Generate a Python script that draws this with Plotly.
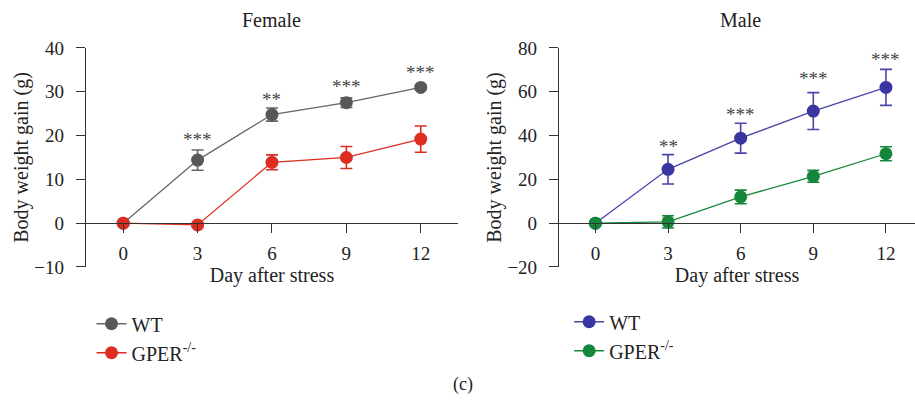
import plotly.graph_objects as go

days = [0, 3, 6, 9, 12]

# Female
f_wt = [0, 14.4, 24.8, 27.5, 31.0]
f_wt_err = [0, 2.3, 1.5, 1.1, 0.5]
f_ko = [0, -0.4, 13.9, 15.0, 19.2]
f_ko_err = [0, 0.5, 1.7, 2.5, 3.0]
f_stars = ["", "***", "**", "***", "***"]
f_star_y = [0, 19.2, 28.3, 31.1, 34.4]

# Male
m_wt = [0, 24.6, 38.8, 51.2, 62.0]
m_wt_err = [0, 6.7, 6.8, 8.4, 8.2]
m_ko = [0, 0.6, 12.0, 21.4, 31.7]
m_ko_err = [0, 2.8, 3.1, 2.7, 3.2]
m_stars = ["", "**", "***", "***", "***"]
m_star_y = [0, 35.0, 49.6, 66.0, 74.8]

FONT = "Liberation Serif"
GRAY = "#58585a"
RED = "#dc2d20"
BLUE = "#3a35a0"
GREEN = "#15873a"
TXT = "#222222"

fig = go.Figure()


def add(x, y, err, color, name, xa, ya, leg, lw_color=None):
    fig.add_trace(go.Scatter(
        x=x, y=y, mode="lines+markers", name=name,
        line=dict(color=lw_color or color, width=1.3),
        marker=dict(color=color, size=13),
        error_y=dict(type="data", array=err, visible=True, color=lw_color or color,
                     thickness=1.6, width=6),
        xaxis=xa, yaxis=ya, legend=leg, cliponaxis=False,
    ))


add(days, f_wt, f_wt_err, GRAY, "WT", "x", "y", "legend", "#666666")
add(days, f_ko, f_ko_err, RED, "GPER<sup>-/-</sup>", "x", "y", "legend")
add(days, m_wt, m_wt_err, BLUE, "WT", "x2", "y2", "legend2", "#4a46a8")
add(days, m_ko, m_ko_err, GREEN, "GPER<sup>-/-</sup>", "x2", "y2", "legend2")

ydom = [0.3375, 0.881]
xpos = ydom[0] + 0.2 * (ydom[1] - ydom[0])

axis_common = dict(
    showline=True, linecolor="#333333", linewidth=1.3, ticks="outside",
    ticklen=9, tickwidth=1.3, tickcolor="#333333", showgrid=False, zeroline=False,
    tickfont=dict(family=FONT, size=19, color=TXT), automargin=False,
)

xtitle = dict(text="Day after stress", standoff=0, font=dict(family=FONT, size=20, color=TXT))
ytitle = dict(text="Body weight gain (g)", standoff=0, font=dict(family=FONT, size=20, color=TXT))

fig.update_layout(
    width=915, height=403,
    margin=dict(l=0, r=0, t=0, b=0, autoexpand=False),
    paper_bgcolor="white", plot_bgcolor="white",
    font=dict(family=FONT, size=19, color=TXT),
    xaxis=dict(domain=[0.094, 0.5005], range=[-1.5, 13.5], anchor="free",
               position=xpos, tickvals=days, ticklabelstandoff=4,
               title=xtitle, **axis_common),
    yaxis=dict(domain=ydom, range=[-10, 40], tickvals=[-10, 0, 10, 20, 30, 40],
               ticktext=["\u221210", "0", "10", "20", "30", "40"], ticklabelstandoff=8,
               title=ytitle, anchor="x", **axis_common),
    xaxis2=dict(domain=[0.611, 1.0], range=[-1.5, 13.2], anchor="free",
                position=xpos, tickvals=days, ticklabelstandoff=4,
                title=xtitle, **axis_common),
    yaxis2=dict(domain=ydom, range=[-20, 80], tickvals=[-20, 0, 20, 40, 60, 80],
                ticktext=["\u221220", "0", "20", "40", "60", "80"], ticklabelstandoff=8,
                title=ytitle, anchor="x2", **axis_common),
    legend=dict(x=0.1, y=0.245, xanchor="left", yanchor="top",
                font=dict(family=FONT, size=20, color=TXT),
                tracegroupgap=0, itemwidth=30, bgcolor="rgba(0,0,0,0)"),
    legend2=dict(x=0.622, y=0.25, xanchor="left", yanchor="top",
                 font=dict(family=FONT, size=20, color=TXT),
                 tracegroupgap=0, itemwidth=30, bgcolor="rgba(0,0,0,0)"),
    showlegend=True,
)

for xr, yr, stars, sy in [("x", "y", f_stars, f_star_y), ("x2", "y2", m_stars, m_star_y)]:
    for d, s, yy in zip(days, stars, sy):
        if s:
            fig.add_annotation(x=d, y=yy, xref=xr, yref=yr, text=s, showarrow=False,
                               font=dict(family=FONT, size=19, color="#444444"))

fig.add_annotation(x=6, y=1.0, xref="x", yref="paper", yanchor="top", text="Female",
                   showarrow=False, yshift=-7, font=dict(family=FONT, size=20, color=TXT))
fig.add_annotation(x=6, y=1.0, xref="x2", yref="paper", yanchor="top", text="Male",
                   showarrow=False, yshift=-7, font=dict(family=FONT, size=20, color=TXT))
fig.add_annotation(x=0.506, y=0.045, xref="paper", yref="paper", text="(c)",
                   xanchor="center", yanchor="middle",
                   showarrow=False, font=dict(family=FONT, size=18, color=TXT))

fig.write_html("out.html")
